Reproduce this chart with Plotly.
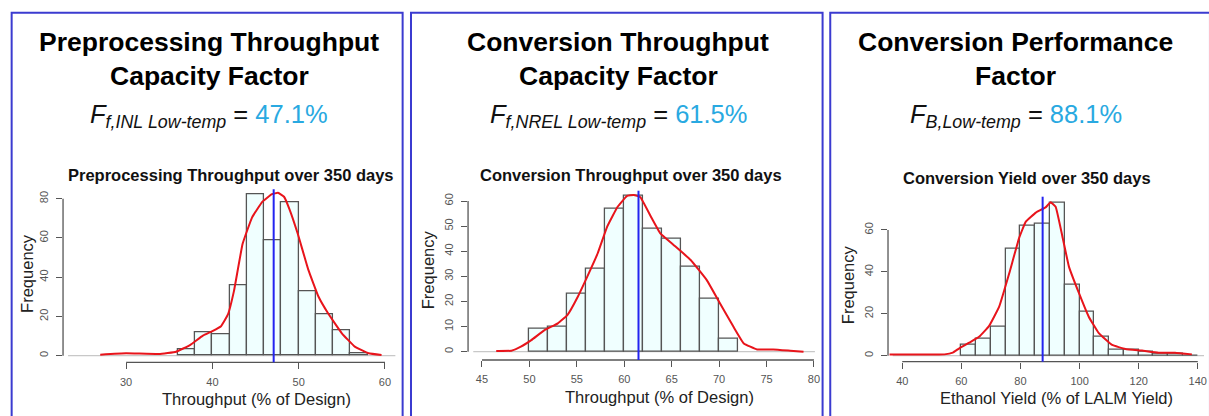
import plotly.graph_objects as go

W, H = 1209, 416

# ---------------- data ----------------
panel_titles_1 = ["Preprocessing Throughput", "Conversion Throughput", "Conversion Performance"]
panel_titles_2 = ["Capacity Factor", "Capacity Factor", "Factor"]
factor_symbol = ["f,INL Low-temp", "f,NREL Low-temp", "B,Low-temp"]
factor_values = [47.1, 61.5, 88.1]
hist_titles = ["Preprocessing Throughput over 350 days",
               "Conversion Throughput over 350 days",
               "Conversion Yield over 350 days"]
x_titles = ["Throughput (% of Design)", "Throughput (% of Design)", "Ethanol Yield (% of LALM Yield)"]

# Panel 1: preprocessing throughput histogram (bins of 2)
p1_bin_left = [36, 38, 40, 42, 44, 46, 48, 50, 52, 54, 56]
p1_counts = [3, 12, 11, 36, 82, 59, 78, 33, 21, 13, 1]
p1_bin_width = 2
p1_curve_x = [27.0, 30.0, 33.8, 35.8, 37.4, 38.9, 40.0, 41.0, 41.8, 42.5, 43.5, 44.6, 45.8, 46.9,
              47.6, 48.3, 48.9, 49.9, 51.1, 52.3, 53.4, 55.0, 56.5, 58.1, 59.6]
p1_curve_y = [0.5, 1.2, 0.8, 2.0, 5.4, 10.2, 12.5, 15.0, 21.0, 33.0, 57.0, 70.5, 78.5, 82.3,
              83.0, 81.0, 75.0, 62.0, 44.0, 30.0, 21.6, 11.4, 4.6, 1.2, 0.3]
p1_mean = 47.1
p1_xticks = [30, 40, 50, 60]
p1_yticks = [0, 20, 40, 60, 80]

# Panel 2: conversion throughput histogram (bins of 2)
p2_bin_left = [50, 52, 54, 56, 58, 60, 62, 64, 66, 68, 70]
p2_counts = [9, 10, 23, 33, 57, 62, 49, 45, 34, 21, 5]
p2_bin_width = 2
p2_curve_x = [46.5, 48.1, 49.1, 50.2, 51.6, 53.0, 54.0, 55.1, 56.1, 57.2, 58.2, 59.3, 60.3,
              61.0, 61.7, 62.8, 63.8, 65.2, 67.0, 68.7, 70.1, 71.5, 72.6, 74.0, 75.7, 77.5, 78.9]
p2_curve_y = [0.3, 0.4, 2.0, 4.6, 8.6, 11.3, 14.6, 21.9, 29.9, 39.2, 49.8, 57.7, 62.0,
              62.4, 61.5, 53.8, 47.1, 42.5, 36.5, 28.5, 19.2, 10.0, 3.3, 0.9, 0.9, 0.4, 0.0]
p2_mean = 61.5
p2_xticks = [45, 50, 55, 60, 65, 70, 75, 80]
p2_yticks = [0, 10, 20, 30, 40, 50, 60]

# Panel 3: conversion yield histogram (bins of 5)
p3_bin_left = [60, 65, 70, 75, 80, 85, 90, 95, 100, 105, 110, 115, 120, 125, 130, 135]
p3_counts = [5, 8, 14, 51, 62, 63, 73, 34, 21, 9, 3, 3, 2, 1, 1, 0]
p3_bin_width = 5
p3_curve_x = [35.7, 54.3, 57.1, 59.3, 62.7, 66.1, 69.4, 72.8, 76.2, 79.5, 81.8, 85.2, 88.5,
              90.2, 91.9, 94.2, 96.4, 99.8, 103.1, 106.5, 111.0, 115.5, 121.1, 126.7, 132.3, 138.0]
p3_curve_y = [0.5, 0.6, 1.4, 3.5, 6.2, 9.1, 14.2, 23.4, 39.3, 56.0, 64.0, 68.3, 70.8,
              73.2, 71.1, 56.8, 42.5, 29.8, 18.6, 10.7, 5.1, 3.2, 2.4, 1.4, 1.4, 0.6]
p3_mean = 87.5
p3_xticks = [40, 60, 80, 100, 120, 140]
p3_yticks = [0, 20, 40, 60]

panels = [
    dict(bl=p1_bin_left, c=p1_counts, bw=p1_bin_width, cx=p1_curve_x, cy=p1_curve_y, m=p1_mean,
         xt=p1_xticks, yt=p1_yticks),
    dict(bl=p2_bin_left, c=p2_counts, bw=p2_bin_width, cx=p2_curve_x, cy=p2_curve_y, m=p2_mean,
         xt=p2_xticks, yt=p2_yticks),
    dict(bl=p3_bin_left, c=p3_counts, bw=p3_bin_width, cx=p3_curve_x, cy=p3_curve_y, m=p3_mean,
         xt=p3_xticks, yt=p3_yticks),
]

# ---------------- layout (pixel geometry) ----------------
def px(x):
    return x / W

def py(y):
    return 1 - y / H

geom = [
    dict(l=63.3, r=397.0, t=189.3, b=362.3, xr=[22.69, 61.2], yr=[-3.4, 84.8]),
    dict(l=470.0, r=818.3, t=190.7, b=360.0, xr=[43.53, 80.1], yr=[-3.3, 64.1]),
    dict(l=891.7, r=1209.0, t=196.7, b=361.7, xr=[35.18, 142.1], yr=[-2.9, 75.9]),
]
boxes = [(11.7, 404.3), (412.7, 826.0), (833.7, 1215.0)]
head_cx = [210, 621, 1020]
htitle_pos = [(231.7, 175), (634, 175), (1031.7, 178)]
xtitle_pos = [(258, 399), (662, 397), (1060.7, 398)]
ytitle_pos = [(27, 273), (430, 270), (851.7, 285)]

FONT = "Liberation Sans, Arial, sans-serif"
GRAY = "#555555"
BLUE_TXT = "#29A9E1"

fig = go.Figure()
shapes = []
annotations = []

for i, (p, g) in enumerate(zip(panels, geom)):
    xa = "x" if i == 0 else f"x{i+1}"
    ya = "y" if i == 0 else f"y{i+1}"
    centers = [b + p["bw"] / 2 for b in p["bl"]]
    fig.add_trace(go.Bar(
        x=centers, y=p["c"], width=[p["bw"]] * len(centers),
        marker=dict(color="#F0FFFF", line=dict(color="#555555", width=1.3)),
        xaxis=xa, yaxis=ya, showlegend=False, hoverinfo="x+y"))
    fig.add_trace(go.Scatter(
        x=p["cx"], y=p["cy"], mode="lines",
        line=dict(color="#E8141B", width=2, shape="spline", smoothing=0.3),
        xaxis=xa, yaxis=ya, showlegend=False))

    axk = "xaxis" if i == 0 else f"xaxis{i+1}"
    ayk = "yaxis" if i == 0 else f"yaxis{i+1}"
    fig.layout[axk] = dict(
        domain=[px(g["l"]), px(g["r"])], range=g["xr"], anchor=ya,
        tickmode="array", tickvals=p["xt"], ticks="outside", ticklen=6, tickwidth=1.2,
        tickcolor=GRAY, showgrid=False, zeroline=False, showline=False,
        tickfont=dict(family=FONT, size=11, color=GRAY), ticklabelstandoff=3)
    fig.layout[ayk] = dict(
        domain=[py(g["b"]), py(g["t"])], range=g["yr"], anchor=xa,
        tickmode="array", tickvals=p["yt"], ticks="outside", ticklen=6, tickwidth=1.2,
        tickcolor=GRAY, showgrid=False, zeroline=False, showline=False, tickangle=-90,
        tickfont=dict(family=FONT, size=11, color=GRAY), ticklabelstandoff=4)

    shapes.append(dict(type="line", xref=xa, yref=f"{ya} domain",
                       x0=min(p["xt"]), x1=max(p["xt"]), y0=0, y1=0,
                       line=dict(color=GRAY, width=1.3)))
    shapes.append(dict(type="line", xref=f"{xa} domain", yref=ya,
                       x0=0, x1=0, y0=min(p["yt"]), y1=max(p["yt"]),
                       line=dict(color=GRAY, width=1.3)))
    shapes.append(dict(type="line", xref=f"{xa} domain", yref=ya, x0=0.015, x1=1, y0=0, y1=0,
                       line=dict(color="#C8C8C8", width=1.2), layer="below"))
    shapes.append(dict(type="line", xref=xa, yref=f"{ya} domain", x0=p["m"], x1=p["m"], y0=0, y1=1,
                       line=dict(color="#2424F0", width=2)))

    bl, br = boxes[i]
    shapes.append(dict(type="rect", xref="paper", yref="paper",
                       x0=px(bl), x1=px(br), y0=py(430), y1=py(12.7),
                       line=dict(color="#3B3BD0", width=2), fillcolor="rgba(0,0,0,0)"))

    cx = head_cx[i]
    annotations.append(dict(x=px(cx), y=py(42), xref="paper", yref="paper", showarrow=False,
                            text=f"<b>{panel_titles_1[i]}</b>", xanchor="center", yanchor="middle",
                            font=dict(family=FONT, size=26.5, color="#000000")))
    annotations.append(dict(x=px(cx), y=py(76), xref="paper", yref="paper", showarrow=False,
                            text=f"<b>{panel_titles_2[i]}</b>", xanchor="center", yanchor="middle",
                            font=dict(family=FONT, size=26.5, color="#000000")))
    formula = (f"<i>F</i><sub><i>{factor_symbol[i]}</i></sub> = "
               f"<span style='color:{BLUE_TXT}'>{factor_values[i]:.1f}%</span>")
    annotations.append(dict(x=px(cx), y=py(116), xref="paper", yref="paper", showarrow=False,
                            text=formula, xanchor="center", yanchor="middle",
                            font=dict(family=FONT, size=25.5, color="#111111")))
    hx, hy = htitle_pos[i]
    annotations.append(dict(x=px(hx), y=py(hy), xref="paper", yref="paper", showarrow=False,
                            text=f"<b>{hist_titles[i]}</b>", xanchor="center", yanchor="middle",
                            font=dict(family=FONT, size=16.5, color="#111111")))
    tx, ty = xtitle_pos[i]
    annotations.append(dict(x=px(tx), y=py(ty), xref="paper", yref="paper", showarrow=False,
                            text=x_titles[i], xanchor="center", yanchor="middle",
                            font=dict(family=FONT, size=16.5, color="#222222")))
    vx, vy = ytitle_pos[i]
    annotations.append(dict(x=px(vx), y=py(vy), xref="paper", yref="paper", showarrow=False,
                            text="Frequency", textangle=-90, xanchor="center", yanchor="middle",
                            font=dict(family=FONT, size=16.5, color="#222222")))

fig.update_layout(
    width=W, height=H, margin=dict(l=0, r=0, t=0, b=0),
    paper_bgcolor="white", plot_bgcolor="rgba(0,0,0,0)",
    shapes=shapes, annotations=annotations, bargap=0, showlegend=False,
)

fig.write_html("out.html")
